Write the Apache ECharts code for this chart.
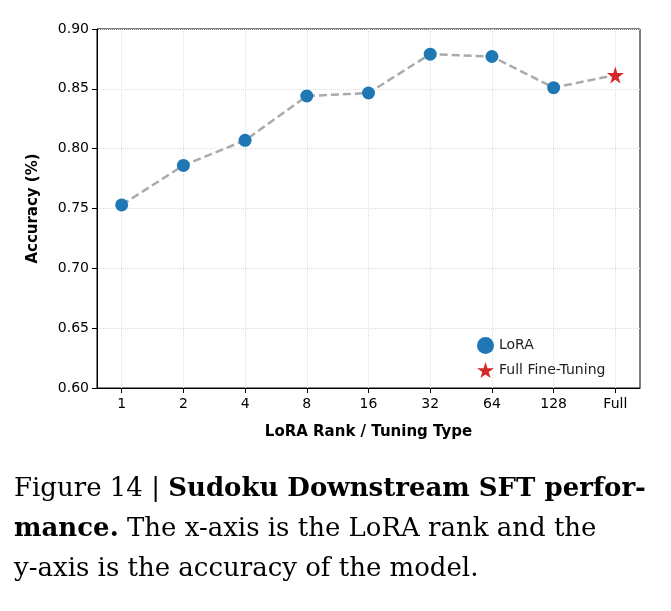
<!DOCTYPE html>
<html><head><meta charset="utf-8">
<script src="https://cdn.jsdelivr.net/npm/echarts@6/dist/echarts.min.js"></script>
<style>html,body{margin:0;padding:0;background:#fff}#c{width:671px;height:611px}</style>
</head><body><div id="c"></div>
<script>
const categories = ['1','2','4','8','16','32','64','128','Full'];
const loraValues = [0.753,0.786,0.807,0.844,0.8465,0.879,0.877,0.851];
const fullValue = 0.8615;
const yTicks = [0.60,0.65,0.70,0.75,0.80,0.85,0.90];

const allVals = loraValues.concat([fullValue]);
const chart = echarts.init(document.getElementById('c'));
const ff = 'DejaVu Sans';
const star = 'path://M50,0 L61,35 L98,35 L68,57 L79,91 L50,70 L21,91 L32,57 L2,35 L39,35 Z';
chart.setOption({
  animation:false,
  grid:{left:97,right:31,top:29,bottom:223,show:true,borderColor:'#000',borderWidth:1},
  xAxis:{type:'value',min:-0.4,max:8.4,interval:1,
    axisLine:{onZero:false,lineStyle:{color:'#000',width:1}},axisTick:{show:true,length:5,lineStyle:{color:'#000'},customValues:[0,1,2,3,4,5,6,7,8]},
    axisLabel:{customValues:[0,1,2,3,4,5,6,7,8],formatter:v=>categories[Math.round(v)]??'',color:'#000',fontFamily:ff,fontSize:14,margin:9},
    splitLine:{show:true,lineStyle:{color:'#ddd',type:'dotted'}},
    name:'LoRA Rank / Tuning Type',nameLocation:'middle',nameGap:37,
    nameTextStyle:{fontFamily:ff,fontWeight:'bold',fontSize:15,color:'#000'}},
  yAxis:{type:'value',min:0.60,max:0.90,interval:0.05,
    axisLine:{show:true,onZero:false,lineStyle:{color:'#000'}},axisTick:{show:true,length:5,lineStyle:{color:'#000'}},
    axisLabel:{formatter:v=>v.toFixed(2),color:'#000',fontFamily:ff,fontSize:14},
    splitLine:{lineStyle:{color:'#ddd',type:'dotted'}},
    name:'Accuracy (%)',nameLocation:'middle',nameGap:56,
    nameTextStyle:{fontFamily:ff,fontWeight:'bold',fontSize:15,color:'#000'}},
  legend:{orient:'vertical',left:472,top:332,itemGap:8,itemWidth:17,itemHeight:17,
    textStyle:{fontFamily:ff,fontSize:14,color:'#222'},
    data:[{name:'LoRA',icon:'circle'},{name:'Full Fine-Tuning',icon:star}]},
  series:[
    {type:'line',data:allVals.map((v,i)=>[i,v]),showSymbol:false,symbol:'none',
     lineStyle:{color:'#aaaaaa',width:2.5,type:[8,4]},z:1},
    {name:'LoRA',type:'scatter',data:loraValues.map((v,i)=>[i,v]),symbolSize:13,itemStyle:{color:'#1f77b4',opacity:1},z:3},
    {name:'Full Fine-Tuning',type:'scatter',data:[[8,fullValue]],symbol:star,
     symbolSize:17,itemStyle:{color:'#d62728',opacity:1},z:3}
  ],
  graphic:[{type:'text',left:14,top:476,style:{
    rich:{n:{fontFamily:'DejaVu Serif',fontSize:26,fill:'#000',lineHeight:40},
          b:{fontFamily:'DejaVu Serif',fontSize:26,fontWeight:'bold',fill:'#000',lineHeight:40}},
    text:'{n|Figure 14 | }{b|Sudoku Downstream SFT perfor-}\n{b|mance.}{n| The x-axis is the LoRA rank and the}\n{n|y-axis is the accuracy of the model.}'}}]
});
</script></body></html>
